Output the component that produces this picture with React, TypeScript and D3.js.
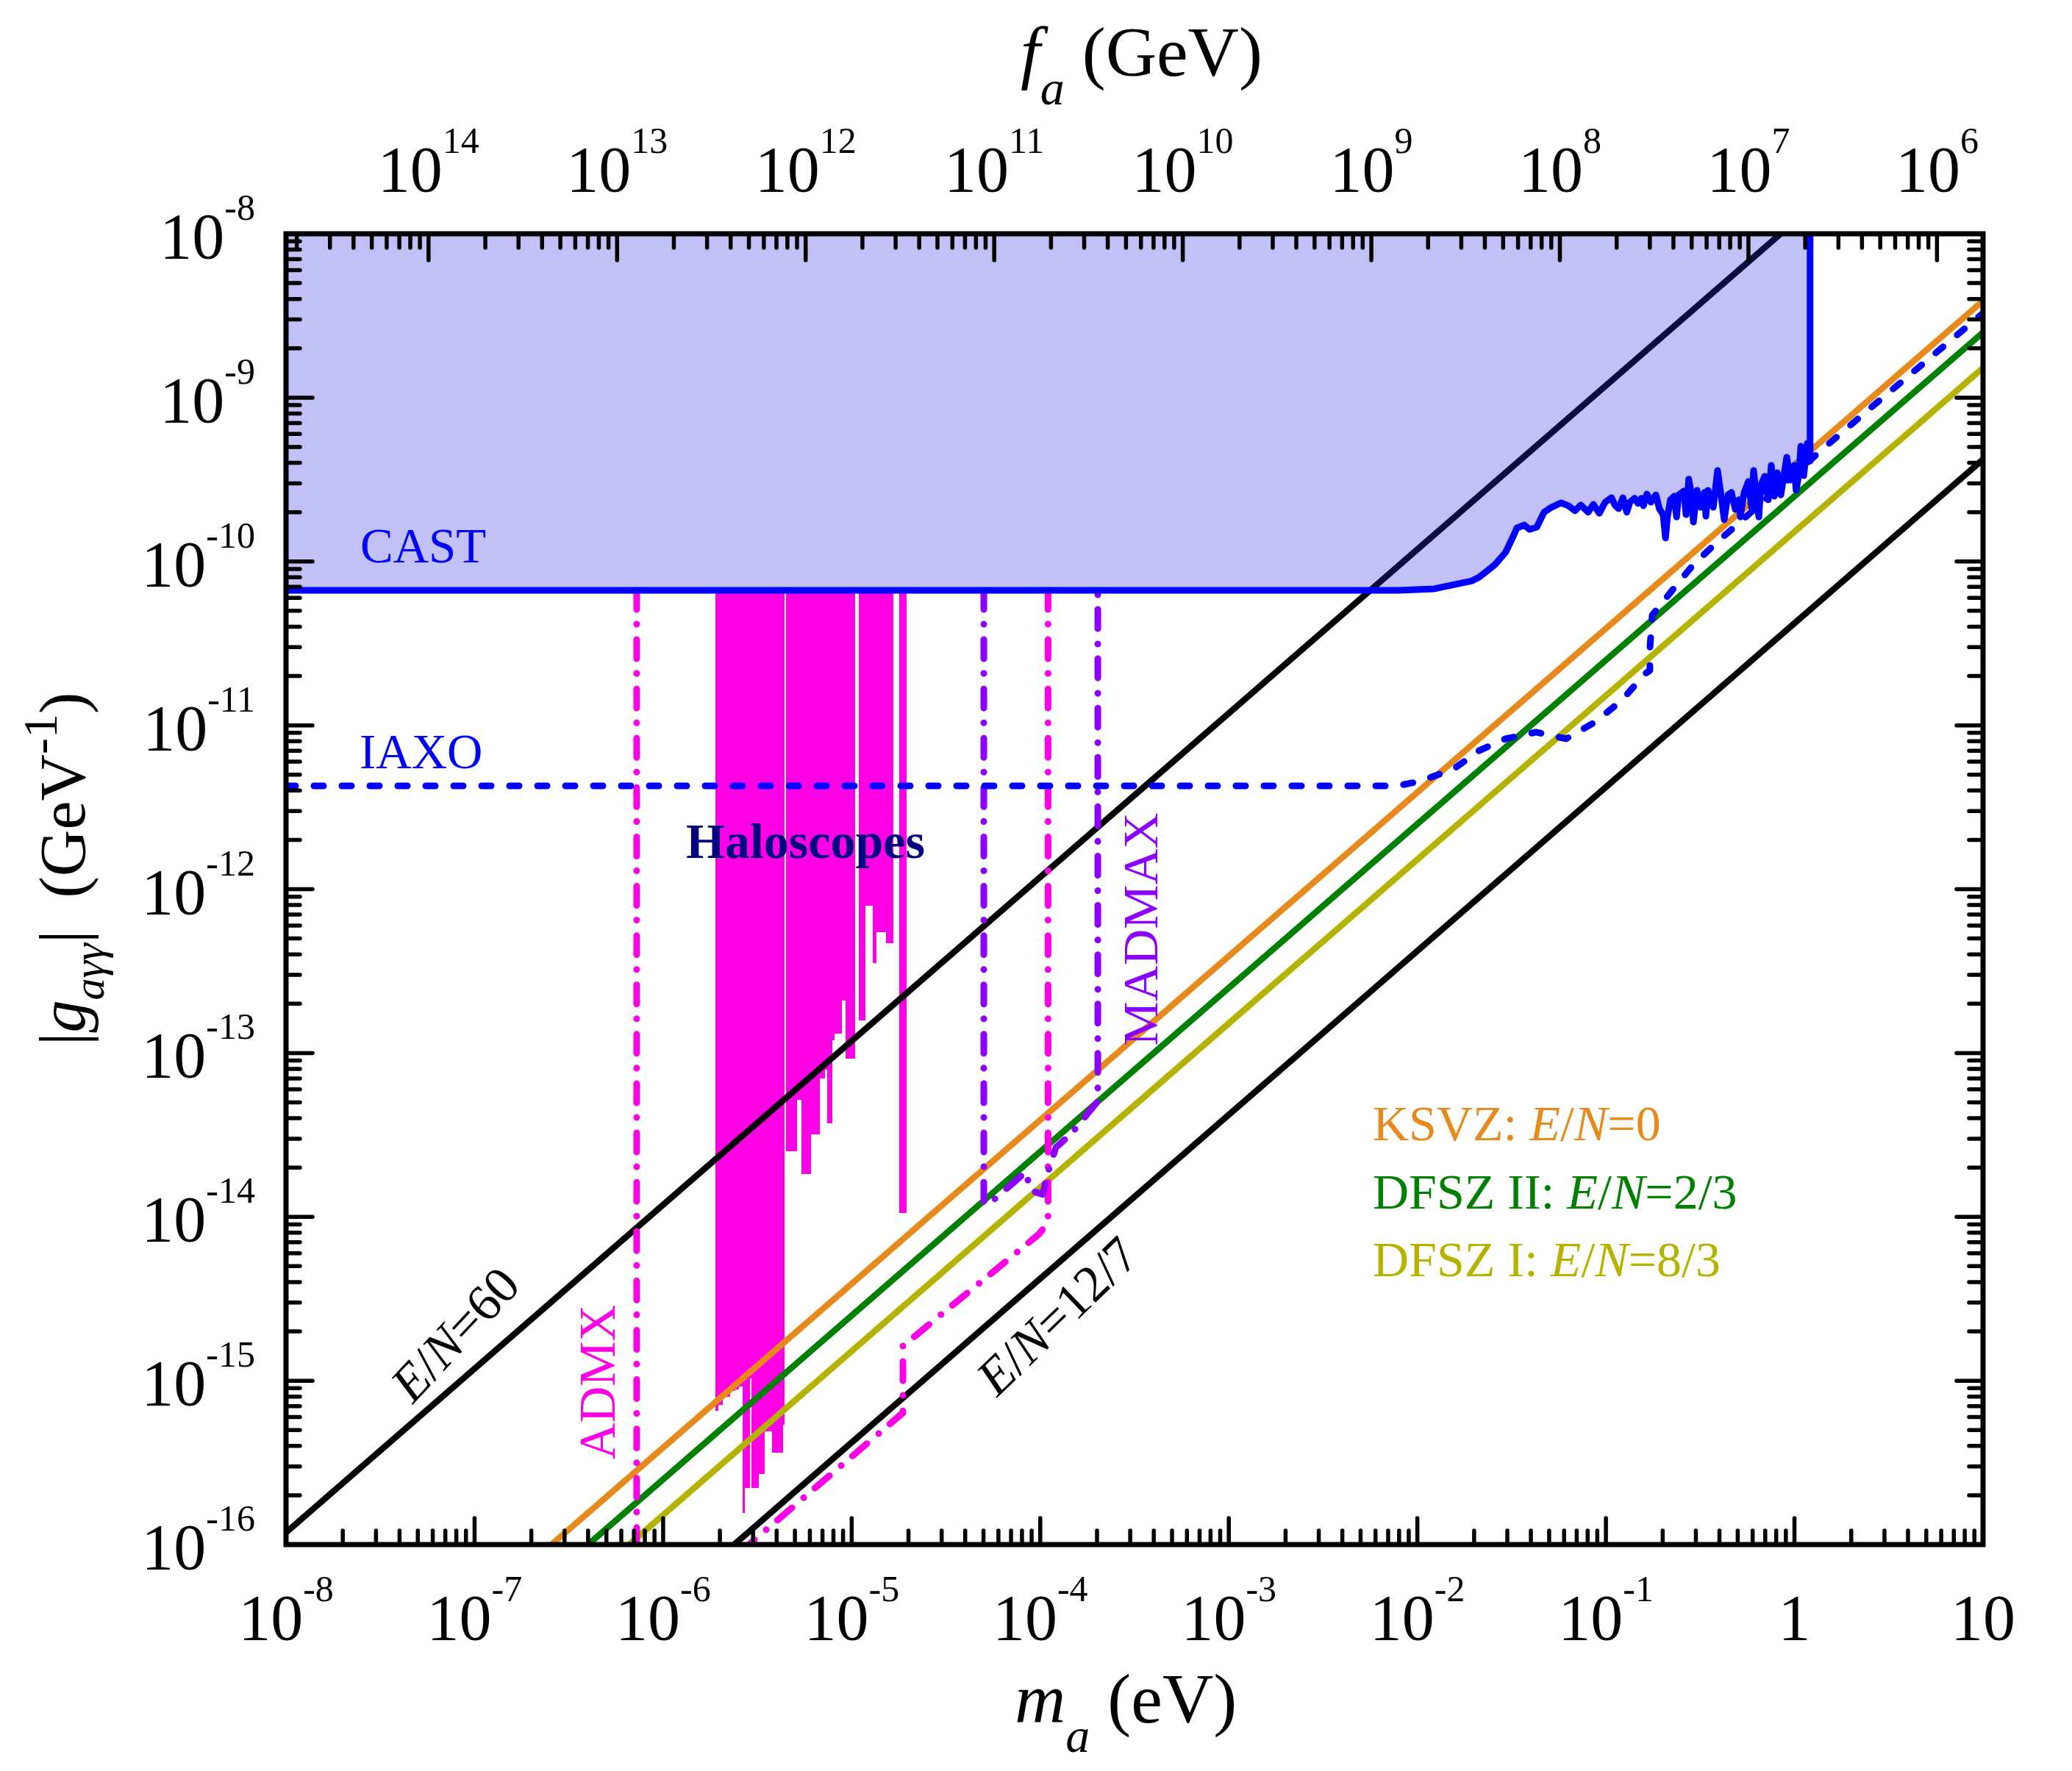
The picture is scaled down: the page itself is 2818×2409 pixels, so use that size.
import React from 'react';
import * as d3 from 'd3';

const W = 2818;
const H = 2409;
const plot = { left: 389, right: 2697, top: 318, bottom: 2101 };
const font = "'Liberation Serif', 'Times New Roman', Times, serif";

// axis ranges (m_a in eV, |g| in GeV^-1); f_a * m_a (GeV eV)
const massDomain = [1e-8, 10];
const couplingDomain = [1e-16, 1e-8];
const faTimesMass = 5.7e6;

const bottomExps = [-8, -7, -6, -5, -4, -3, -2, -1, 0, 1];
const leftExps = [-16, -15, -14, -13, -12, -11, -10, -9, -8];
const topExps = [14, 13, 12, 11, 10, 9, 8, 7, 6];

// CAST limit [m_a, g]
const castLimit = [
  [1e-8, 6.67e-11], [0.008, 6.67e-11], [0.0123, 6.81e-11], [0.0195, 7.62e-11],
  [0.0213, 8.03e-11], [0.0258, 9.57e-11], [0.0294, 1.14e-10], [0.0322, 1.42e-10],
  [0.0337, 1.6e-10], [0.0369, 1.67e-10], [0.0393, 1.57e-10], [0.043, 1.62e-10],
  [0.047, 2.0e-10], [0.0514, 2.14e-10], [0.0578, 2.28e-10], [0.0632, 2.19e-10],
  [0.0685, 2.04e-10], [0.0736, 2.21e-10], [0.0805, 2.0e-10], [0.0857, 2.23e-10],
  [0.0923, 1.97e-10], [0.0991, 2.3e-10], [0.107, 2.45e-10], [0.112, 2.19e-10],
  [0.117, 2.1e-10], [0.123, 2.45e-10], [0.129, 2.0e-10], [0.134, 2.3e-10],
  [0.142, 2.43e-10], [0.148, 2.26e-10], [0.154, 2.43e-10], [0.158, 2.19e-10],
  [0.165, 2.58e-10], [0.173, 2.3e-10], [0.184, 2.55e-10], [0.192, 2.1e-10],
  [0.201, 1.93e-10], [0.207, 1.39e-10], [0.212, 1.87e-10], [0.22, 2.38e-10],
  [0.23, 2.5e-10], [0.237, 1.87e-10], [0.243, 2.55e-10], [0.259, 2.69e-10],
  [0.266, 1.93e-10], [0.275, 3.18e-10], [0.283, 2.64e-10], [0.291, 1.74e-10],
  [0.304, 2.72e-10], [0.318, 2.14e-10], [0.333, 2.64e-10], [0.339, 1.89e-10],
  [0.348, 2.72e-10], [0.371, 2.14e-10], [0.391, 3.59e-10], [0.406, 2.64e-10],
  [0.424, 1.8e-10], [0.444, 2.55e-10], [0.463, 2.64e-10], [0.485, 2.08e-10],
  [0.507, 2.38e-10], [0.516, 1.87e-10], [0.541, 2.64e-10], [0.57, 3.08e-10],
  [0.592, 2.14e-10], [0.607, 3.59e-10], [0.624, 2.64e-10], [0.647, 1.87e-10],
  [0.664, 2.92e-10], [0.695, 3.31e-10], [0.726, 2.38e-10], [0.753, 3.86e-10],
  [0.782, 2.5e-10], [0.809, 3.48e-10], [0.847, 2.55e-10], [0.885, 3.52e-10],
  [0.91, 4.33e-10], [0.951, 3.14e-10], [0.995, 3.86e-10], [1.02, 2.72e-10],
  [1.06, 3.48e-10], [1.08, 5.05e-10], [1.12, 3.34e-10], [1.17, 5.26e-10],
  [1.21, 4.11e-10], [1.21, 1.5e-8],
];

// IAXO projected sensitivity
const iaxoProjection = [
  [1e-8, 4.27e-12], [0.0078, 4.27e-12], [0.0103, 4.55e-12], [0.0156, 5.42e-12],
  [0.0213, 7.02e-12], [0.0294, 8.28e-12], [0.0426, 9.08e-12], [0.0615, 8.28e-12],
  [0.0881, 1.05e-11], [0.122, 1.43e-11], [0.161, 2.06e-11], [0.171, 2.16e-11],
  [0.171, 2.92e-11], [0.176, 4.7e-11], [0.22, 6.47e-11], [0.291, 9.57e-11],
  [0.371, 1.25e-10], [0.432, 1.46e-10], [1.5, 5.16e-10], [2.4, 8.21e-10], [10, 3.28e-9],
];

// haloscope exclusions: [m low, m high, g lower edge]; upper edge is the CAST floor
const haloscopeBars = [
  [1.89e-6, 1.96e-6, 6.57e-16], [1.96e-6, 2.07e-6, 7.13e-16], [2.07e-6, 2.26e-6, 8.0e-16],
  [2.26e-6, 2.42e-6, 8.69e-16], [2.42e-6, 2.52e-6, 8.86e-16], [2.52e-6, 2.64e-6, 9.23e-16],
  [2.64e-6, 2.71e-6, 1.56e-16], [2.71e-6, 2.89e-6, 2.22e-16], [2.89e-6, 2.93e-6, 1.03e-15],
  [2.93e-6, 3.21e-6, 2.22e-16], [3.21e-6, 3.46e-6, 2.7e-16], [3.46e-6, 3.78e-6, 4.92e-16],
  [3.78e-6, 4.32e-6, 3.65e-16], [4.32e-6, 4.41e-6, 5.4e-16],
  [4.49e-6, 5.13e-6, 2.52e-14], [5.13e-6, 5.42e-6, 5.19e-14], [5.42e-6, 6.08e-6, 1.83e-14],
  [6.08e-6, 6.78e-6, 3.19e-14], [6.78e-6, 7.21e-6, 7.0e-14], [7.21e-6, 7.41e-6, 7.93e-14],
  [7.41e-6, 7.89e-6, 3.73e-14], [7.89e-6, 8.11e-6, 1.2e-13], [8.11e-6, 8.87e-6, 1.32e-13],
  [8.87e-6, 9.29e-6, 2.09e-13], [9.29e-6, 1.04e-5, 9.25e-14],
  [1.09e-5, 1.18e-5, 1.58e-13], [1.18e-5, 1.29e-5, 7.94e-13], [1.29e-5, 1.35e-5, 3.55e-13],
  [1.35e-5, 1.52e-5, 5.47e-13], [1.52e-5, 1.66e-5, 4.69e-13],
  [1.79e-5, 1.95e-5, 1.06e-14],
];

const admxLine = [[7.24e-7, 6.67e-11], [7.24e-7, 1e-16]];
const admxProjection = [
  [1.1e-4, 6.67e-11], [1.1e-4, 9.25e-15], [9.84e-5, 7.84e-15], [1.87e-5, 1.63e-15],
  [1.87e-5, 6.37e-16], [2.85e-6, 1e-16],
];
const madmaxProjection = [
  [5.02e-5, 6.67e-11], [5.02e-5, 1.21e-14], [5.4e-5, 1.21e-14], [8.37e-5, 1.88e-14],
  [8.9e-5, 1.45e-14], [1.03e-4, 1.37e-14], [1.1e-4, 1.88e-14], [1.21e-4, 2.65e-14],
  [1.45e-4, 3.19e-14], [2.02e-4, 5.08e-14], [2.02e-4, 6.67e-11],
];

// model lines, endpoints where they leave the frame
const modelLines = [
  { name: 'E/N=60', color: '#000000', pts: [[1e-8, 1.185e-16], [0.844, 1e-8]] },
  { name: 'KSVZ', color: '#e8891c', pts: [[2.56e-7, 1e-16], [10, 3.9e-9]] },
  { name: 'DFSZ II', color: '#008000', pts: [[4.0e-7, 1e-16], [10, 2.5e-9]] },
  { name: 'DFSZ I', color: '#b4b400', pts: [[6.6e-7, 1e-16], [10, 1.52e-9]] },
  { name: 'E/N=12/7', color: '#000000', pts: [[2.38e-6, 1e-16], [10, 4.2e-10]] },
];

const legendRows = [
  { lead: 'KSVZ: ', tail: '=0', color: '#e8891c' },
  { lead: 'DFSZ II: ', tail: '=2/3', color: '#008000' },
  { lead: 'DFSZ I: ', tail: '=8/3', color: '#b4b400' },
];

const magenta = '#ff00e6';
const purple = '#8c00ff';
const dashDot = '26 20 0.1 21';

function PowLabel({ x, y, exp, anchor }) {
  if (exp === 0) return <text x={x} y={y} textAnchor={anchor}>1</text>;
  if (exp === 1) return <text x={x} y={y} textAnchor={anchor}>10</text>;
  return (
    <text x={x} y={y} textAnchor={anchor}>
      10<tspan fontSize={50} dy={-52}>{exp}</tspan>
    </text>
  );
}

export default function App() {
  const x = d3.scaleLog().domain(massDomain).range([plot.left, plot.right]);
  const y = d3.scaleLog().domain(couplingDomain).range([plot.bottom, plot.top]);
  const xf = d3.scaleLog()
    .domain([faTimesMass / massDomain[0], faTimesMass / massDomain[1]])
    .range([plot.left, plot.right]);

  const line = d3.line().x(d => x(d[0])).y(d => y(d[1]));
  const castArea = d3.area()
    .x(d => x(d[0]))
    .y0(() => y(couplingDomain[1]) - 20)
    .y1(d => y(d[1]));
  const castFloor = castLimit[0][1];

  const xMajor = bottomExps.map(k => 10 ** k);
  const xMinor = d3.range(-8, 1).flatMap(k => d3.range(2, 10).map(j => j * 10 ** k));
  const yMajor = leftExps.map(k => 10 ** k);
  const yMinor = d3.range(-16, -8).flatMap(k => d3.range(2, 10).map(j => j * 10 ** k));
  const fMajor = topExps.map(k => 10 ** k);
  const fLo = faTimesMass / massDomain[1];
  const fHi = faTimesMass / massDomain[0];
  const fMinor = d3.range(6, 16)
    .flatMap(k => d3.range(2, 10).map(j => 10 ** k / j))
    .filter(f => f > fLo && f < fHi);

  const major = 36;
  const minor = 19;

  return (
    <svg width={W} height={H} style={{ position: 'absolute', left: 0, top: 0, background: '#fff' }}
      fontFamily={font}>
      <defs>
        <clipPath id="plotClip">
          <rect x={plot.left} y={plot.top} width={plot.right - plot.left} height={plot.bottom - plot.top} />
        </clipPath>
      </defs>
      <rect x={0} y={0} width={W} height={H} fill="#fff" />

      <g clipPath="url(#plotClip)">
        {/* haloscope exclusion */}
        <g fill={magenta} shapeRendering="crispEdges">
          {haloscopeBars.map((b, i) => (
            <rect key={i} x={x(b[0])} width={x(b[1]) - x(b[0])}
              y={y(castFloor)} height={y(b[2]) - y(castFloor)} />
          ))}
        </g>

        {modelLines.map(l => (
          <path key={l.name} d={line(l.pts)} stroke={l.color} strokeWidth={8.5} fill="none" />
        ))}

        <path d={line(admxLine)} stroke={magenta} strokeWidth={9} fill="none"
          strokeDasharray={dashDot} strokeLinecap="round" />
        <path d={line(admxProjection)} stroke={magenta} strokeWidth={9} fill="none"
          strokeDasharray={dashDot} strokeLinecap="round" strokeLinejoin="round" />
        <path d={line(madmaxProjection)} stroke={purple} strokeWidth={9} fill="none"
          strokeDasharray={dashDot} strokeLinecap="round" strokeLinejoin="round" />

        <path d={line(iaxoProjection)} stroke="#0000ff" strokeWidth={9} fill="none"
          strokeDasharray="13 25" strokeLinecap="round" strokeLinejoin="round" />

        <path d={castArea(castLimit)} fill="rgba(40,40,230,0.29)" stroke="none" />
        <path d={line(castLimit)} stroke="#0000ff" strokeWidth={9} fill="none" strokeLinejoin="round" />
      </g>

      {/* in-plot labels */}
      <g fontSize={67}>
        <text x={490} y={765} fill="#0000ff">CAST</text>
        <text x={489} y={1045} fill="#0000ff">IAXO</text>
        <text x={933} y={1167} fill="#000080" fontWeight="bold" fontSize={68}>Haloscopes</text>
        <text transform="translate(1574,1264) rotate(-90)" textAnchor="middle" fill={purple} fontSize={68}>MADMAX</text>
        <text transform="translate(836,1880) rotate(-90)" textAnchor="middle" fill={magenta} fontSize={69}>ADMX</text>
        <text transform="translate(619,1815) rotate(-47)" textAnchor="middle" dy="0.33em" fontSize={70}>
          <tspan fontStyle="italic">E</tspan>/<tspan fontStyle="italic">N</tspan>=60
        </text>
        <text transform="translate(1438,1790) rotate(-44)" textAnchor="middle" dy="0.33em" fontSize={70}>
          <tspan fontStyle="italic">E</tspan>/<tspan fontStyle="italic">N</tspan>=12/7
        </text>
        {legendRows.map((r, i) => (
          <text key={r.lead} x={1867} y={1551 + i * 92.5} fill={r.color} fontSize={68}>
            {r.lead}<tspan fontStyle="italic">E</tspan>/<tspan fontStyle="italic">N</tspan>{r.tail}
          </text>
        ))}
      </g>

      {/* frame and ticks */}
      <g stroke="#000" strokeWidth={5.5} strokeLinecap="round">
        {xMajor.map(v => <line key={'bM' + v} x1={x(v)} x2={x(v)} y1={plot.bottom} y2={plot.bottom - major} />)}
        {xMinor.map(v => <line key={'bm' + v} x1={x(v)} x2={x(v)} y1={plot.bottom} y2={plot.bottom - minor} />)}
        {fMajor.map(v => <line key={'tM' + v} x1={xf(v)} x2={xf(v)} y1={plot.top} y2={plot.top + major} />)}
        {fMinor.map(v => <line key={'tm' + v} x1={xf(v)} x2={xf(v)} y1={plot.top} y2={plot.top + minor} />)}
        {yMajor.map(v => <line key={'lM' + v} x1={plot.left} x2={plot.left + major} y1={y(v)} y2={y(v)} />)}
        {yMinor.map(v => <line key={'lm' + v} x1={plot.left} x2={plot.left + minor} y1={y(v)} y2={y(v)} />)}
        {yMajor.map(v => <line key={'rM' + v} x1={plot.right} x2={plot.right - major} y1={y(v)} y2={y(v)} />)}
        {yMinor.map(v => <line key={'rm' + v} x1={plot.right} x2={plot.right - minor} y1={y(v)} y2={y(v)} />)}
      </g>
      <rect x={plot.left} y={plot.top} width={plot.right - plot.left} height={plot.bottom - plot.top}
        fill="none" stroke="#000" strokeWidth={7} />

      {/* tick labels */}
      <g fontSize={88} fill="#000">
        {bottomExps.map(k => <PowLabel key={'bl' + k} x={x(10 ** k)} y={2230} exp={k} anchor="middle" />)}
        {leftExps.map(k => <PowLabel key={'ll' + k} x={347} y={y(10 ** k) + 33} exp={k} anchor="end" />)}
        {topExps.map(k => <PowLabel key={'tl' + k} x={xf(10 ** k)} y={260} exp={k} anchor="middle" />)}
      </g>

      {/* axis titles */}
      <g fontSize={96} fill="#000">
        <text x={1380} y={2343}>
          <tspan fontStyle="italic">m</tspan>
          <tspan fontStyle="italic" fontSize={66} dy={40}>a</tspan>
          <tspan dy={-40}> (eV)</tspan>
        </text>
        <text x={1388} y={103}>
          <tspan fontStyle="italic">f</tspan>
          <tspan fontStyle="italic" fontSize={66} dy={39}>a</tspan>
          <tspan dy={-39}> (GeV)</tspan>
        </text>
        <text transform="translate(115,1422) rotate(-90)" fontSize={88}>
          <tspan>|</tspan>
          <tspan fontStyle="italic">g</tspan>
          <tspan fontStyle="italic" fontSize={60} dy={26}>aγγ</tspan>
          <tspan dy={-26}>|</tspan>
          <tspan dx={22}> (GeV</tspan>
          <tspan fontSize={66} dy={-38}>-1</tspan>
          <tspan dy={38}>)</tspan>
        </text>
      </g>
    </svg>
  );
}
